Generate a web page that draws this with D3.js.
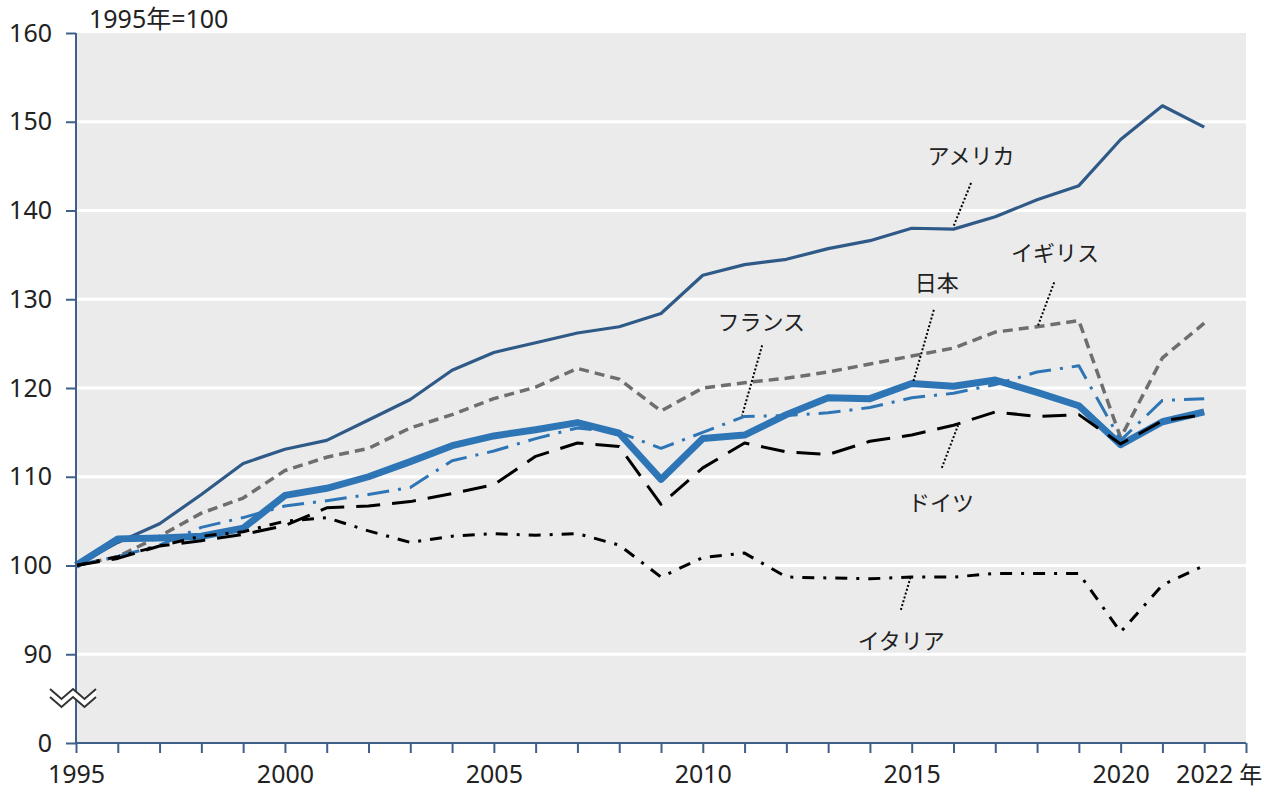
<!DOCTYPE html>
<html>
<head>
<meta charset="utf-8">
<script src="https://cdn.jsdelivr.net/npm/d3@7"></script>
<style>
  html, body { margin: 0; padding: 0; background: #fff; }
  svg { display: block; font-family: "Noto Sans", "Noto Sans CJK JP", sans-serif; }
</style>
</head>
<body>
<script>
// values, 1995 = 100
var years = d3.range(1995, 2023);

var america = [100, 102.6, 104.7, 108.0, 111.5, 113.1, 114.1, 116.4, 118.7, 122.0,
  124.0, 125.1, 126.2, 126.9, 128.4, 132.7, 133.9, 134.5, 135.7, 136.6,
  138.0, 137.9, 139.3, 141.2, 142.8, 148.0, 151.8, 149.4];

var uk = [100, 101.0, 103.3, 105.9, 107.6, 110.7, 112.2, 113.2, 115.5, 117.0,
  118.8, 120.1, 122.2, 121.0, 117.4, 120.0, 120.6, 121.1, 121.8, 122.7,
  123.6, 124.5, 126.3, 126.9, 127.6, 114.4, 123.4, 127.3];

var japan = [100, 103.0, 103.1, 103.3, 104.2, 107.9, 108.7, 110.0, 111.7, 113.5,
  114.6, 115.3, 116.1, 114.9, 109.7, 114.3, 114.7, 117.0, 118.9, 118.8,
  120.5, 120.2, 120.9, 119.5, 118.0, 113.6, 116.2, 117.3];

var france = [100, 101.0, 102.3, 104.3, 105.4, 106.7, 107.3, 108.0, 108.8, 111.8,
  112.9, 114.3, 115.5, 115.0, 113.2, 115.0, 116.8, 116.9, 117.2, 117.8,
  118.9, 119.4, 120.4, 121.8, 122.5, 114.1, 118.6, 118.8];

var germany = [100, 100.8, 102.2, 102.8, 103.5, 104.5, 106.5, 106.7, 107.2, 108.1,
  109.1, 112.3, 113.8, 113.4, 106.9, 111.0, 113.8, 112.8, 112.5, 114.0,
  114.7, 115.8, 117.3, 116.8, 117.0, 113.7, 116.3, 117.0];

var italy = [100, 101.0, 102.2, 103.3, 103.8, 105.0, 105.4, 103.9, 102.6, 103.3,
  103.6, 103.4, 103.6, 102.3, 98.7, 100.9, 101.4, 98.7, 98.6, 98.5,
  98.7, 98.7, 99.1, 99.1, 99.1, 92.5, 97.8, 100.0];

var yTicks = [80, 90, 100, 110, 120, 130, 140, 150, 160];
var xTicks = d3.range(1995, 2024);
var xLabels = [1995, 2000, 2005, 2010, 2015, 2020, 2022];

// label positions in data units: year, value and leader line ends
var labelNames = ['アメリカ', 'イギリス', '日本', 'フランス', 'ドイツ', 'イタリア'];
var labelAt = [[2016.42, 146.3], [2018.43, 135.3], [2015.6, 131.9], [2011.4, 127.6], [2015.7, 107.2], [2014.75, 91.6]];
var leaders = [
  [[2016.42, 143.1], [2015.99, 138.1]],
  [[2018.41, 131.9], [2018.02, 127.0]],
  [[2015.53, 128.8], [2015.03, 120.6]],
  [[2011.42, 124.8], [2010.94, 116.9]],
  [[2015.72, 111.0], [2016.11, 115.8]],
  [[2014.74, 95.0], [2014.98, 98.8]]
];

(function () {
  'use strict';
  var width = 1276,
    height = 792,
    left = 76,
    right = 1246,
    top = 33,
    bottom = 743,
    axisColor = '#3f6189',
    textColor = '#222',
    svg, x, y, line, series;

  svg = d3.select('body')
    .append('svg')
    .attr('width', width)
    .attr('height', height);

  x = d3.scaleLinear().domain([1995, 2023]).range([left, right]);
  y = d3.scaleLinear().domain([80, 160]).range([bottom, top]);

  // plot background
  svg.append('rect')
    .attr('x', left)
    .attr('y', top)
    .attr('width', right - left)
    .attr('height', bottom - top)
    .attr('fill', '#ebebeb');

  // gridlines
  svg.append('g')
    .selectAll('line')
    .data(yTicks.filter(function (d) { return d > 80 && d < 160; }))
    .enter()
    .append('line')
    .attr('x1', left)
    .attr('x2', right)
    .attr('y1', function (d) { return y(d); })
    .attr('y2', function (d) { return y(d); })
    .attr('stroke', '#fff')
    .attr('stroke-width', 3);

  line = d3.line()
    .x(function (d, i) { return x(years[i]); })
    .y(function (d) { return y(d); });

  series = [
    { v: uk, color: '#6e6e6e', w: 3.5, dash: '10,6' },
    { v: america, color: '#2f5a87', w: 3.2, dash: null },
    { v: japan, color: '#2e75b6', w: 7, dash: null },
    { v: france, color: '#2e75b6', w: 3, dash: '22,9,3,9' },
    { v: germany, color: '#000', w: 3, dash: '24,12' },
    { v: italy, color: '#000', w: 3, dash: '12,9,3,9' }
  ];

  svg.append('g')
    .selectAll('path')
    .data(series)
    .enter()
    .append('path')
    .attr('d', function (d) { return line(d.v); })
    .attr('fill', 'none')
    .attr('stroke', function (d) { return d.color; })
    .attr('stroke-width', function (d) { return d.w; })
    .attr('stroke-dasharray', function (d) { return d.dash; })
    .attr('stroke-linejoin', 'round');

  // y axis
  var yAxis = svg.append('g')
    .attr('transform', 'translate(' + left + ',0)')
    .call(d3.axisLeft(y)
      .tickValues(yTicks)
      .tickSize(10)
      .tickPadding(14)
      .tickFormat(function (d) { return d === 80 ? '0' : d; }))
    .attr('font-family', null);
  yAxis.select('.domain').remove();
  yAxis.append('line')
    .attr('y1', top)
    .attr('y2', bottom)
    .attr('stroke', axisColor)
    .attr('stroke-width', 2);
  yAxis.selectAll('.tick line').attr('stroke', axisColor).attr('stroke-width', 2);
  yAxis.selectAll('.tick text')
    .attr('fill', textColor)
    .style('font-size', '25px');

  // x axis
  var xAxis = svg.append('g')
    .attr('transform', 'translate(0,' + bottom + ')')
    .call(d3.axisBottom(x)
      .tickValues(xTicks)
      .tickSize(10)
      .tickPadding(12)
      .tickFormat(function (d) { return xLabels.indexOf(d) >= 0 ? d : ''; }))
    .attr('font-family', null);
  xAxis.select('.domain').remove();
  xAxis.append('line')
    .attr('x1', left)
    .attr('x2', right)
    .attr('stroke', axisColor)
    .attr('stroke-width', 2);
  xAxis.selectAll('.tick line').attr('stroke', axisColor).attr('stroke-width', 2);
  xAxis.selectAll('.tick text')
    .attr('fill', textColor)
    .style('font-size', '25px');

  svg.append('text')
    .attr('x', x(2022) + 35)
    .attr('y', bottom + 40)
    .attr('fill', textColor)
    .style('font-size', '23px')
    .text('年');

  // axis break mark
  var bx = left - 26, by = 689, seg = 11.5, off = 8;
  var top1 = [0, 1, 2, 3, 4].map(function (i) { return [bx + i * seg, by + (i % 2) * 10]; });
  var bot1 = top1.map(function (p) { return [p[0], p[1] + off]; });
  svg.append('path')
    .attr('d', d3.line()(top1.concat(bot1.slice().reverse())) + 'Z')
    .attr('fill', '#fff')
    .attr('stroke', 'none');
  [top1, bot1].forEach(function (pts) {
    svg.append('path')
      .attr('d', d3.line()(pts))
      .attr('fill', 'none')
      .attr('stroke', '#333')
      .attr('stroke-width', 2);
  });

  // unit label
  svg.append('text')
    .attr('x', 89)
    .attr('y', 28)
    .attr('fill', textColor)
    .style('font-size', '25px')
    .text('1995年=100');

  // leaders and series names
  svg.append('g')
    .selectAll('line')
    .data(leaders)
    .enter()
    .append('line')
    .attr('x1', function (d) { return x(d[0][0]); })
    .attr('y1', function (d) { return y(d[0][1]); })
    .attr('x2', function (d) { return x(d[1][0]); })
    .attr('y2', function (d) { return y(d[1][1]); })
    .attr('stroke', '#000')
    .attr('stroke-width', 2)
    .attr('stroke-dasharray', '2,2');

  svg.append('g')
    .selectAll('text')
    .data(labelNames)
    .enter()
    .append('text')
    .attr('x', function (d, i) { return x(labelAt[i][0]); })
    .attr('y', function (d, i) { return y(labelAt[i][1]); })
    .attr('text-anchor', 'middle')
    .attr('dominant-baseline', 'central')
    .attr('fill', textColor)
    .style('font-size', '22px')
    .text(function (d) { return d; });
}());
</script>
</body>
</html>
